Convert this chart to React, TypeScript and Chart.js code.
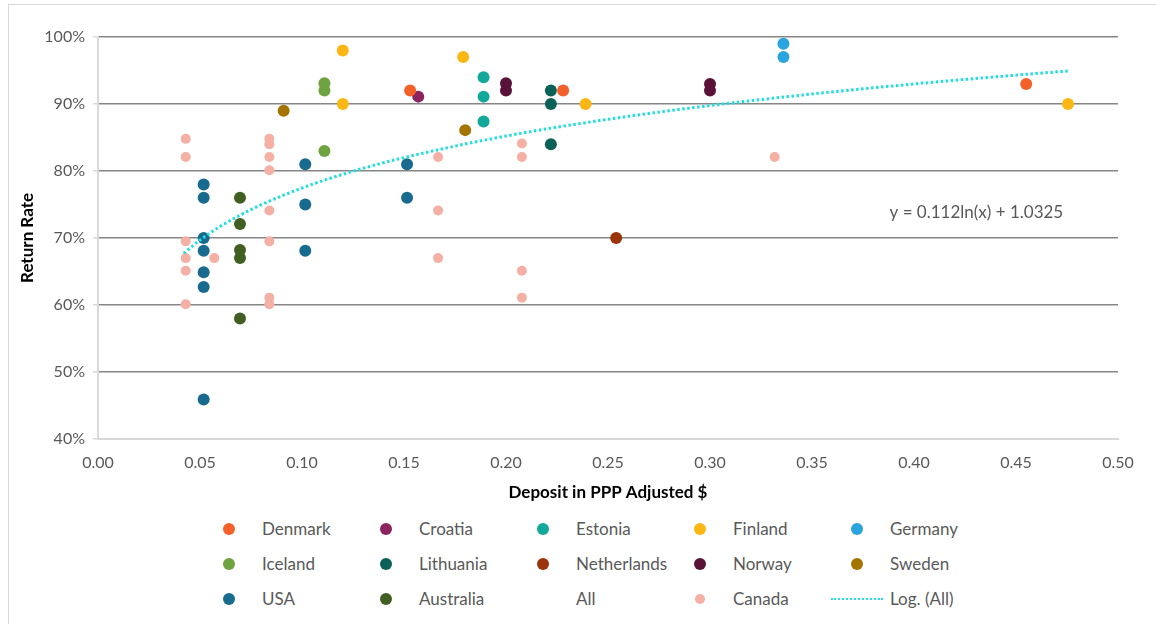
import React, { useEffect, useRef } from "react";
import { Chart, registerables } from "chart.js";

Chart.register(...registerables);

const FONT = "Lato, 'Open Sans', sans-serif";
const TEXT_GREY = "#595959";

// [deposit in PPP adjusted $, return rate]
const DENMARK: [number, number][] = [[0.153, 0.92], [0.228, 0.92], [0.455, 0.93]];
const CROATIA: [number, number][] = [[0.157, 0.911]];
const ESTONIA: [number, number][] = [[0.189, 0.94], [0.189, 0.911], [0.189, 0.874]];
const FINLAND: [number, number][] = [[0.12, 0.98], [0.12, 0.9], [0.179, 0.97], [0.239, 0.9], [0.4755, 0.9]];
const GERMANY: [number, number][] = [[0.336, 0.99], [0.336, 0.97]];
const ICELAND: [number, number][] = [[0.111, 0.931], [0.111, 0.92], [0.111, 0.83]];
const LITHUANIA: [number, number][] = [[0.222, 0.92], [0.222, 0.9], [0.222, 0.84]];
const NETHERLANDS: [number, number][] = [[0.254, 0.7]];
const NORWAY: [number, number][] = [[0.2, 0.931], [0.2, 0.92], [0.3, 0.93], [0.3, 0.92]];
const SWEDEN: [number, number][] = [[0.091, 0.89], [0.18, 0.861]];
const USA: [number, number][] = [
  [0.0518, 0.78], [0.0518, 0.76], [0.0518, 0.7], [0.0518, 0.681], [0.0518, 0.649], [0.0518, 0.627], [0.0518, 0.459],
  [0.1016, 0.81], [0.1016, 0.75], [0.1016, 0.681],
  [0.1515, 0.81], [0.1515, 0.76],
];
const AUSTRALIA: [number, number][] = [[0.0696, 0.76], [0.0696, 0.721], [0.0696, 0.682], [0.0696, 0.67], [0.0696, 0.58]];
const CANADA: [number, number][] = [
  [0.043, 0.848], [0.043, 0.821], [0.043, 0.695], [0.043, 0.67], [0.043, 0.651], [0.043, 0.601],
  [0.057, 0.67],
  [0.084, 0.848], [0.084, 0.84], [0.084, 0.821], [0.084, 0.801], [0.084, 0.741], [0.084, 0.695], [0.084, 0.611], [0.084, 0.601],
  [0.1667, 0.821], [0.1667, 0.741], [0.1667, 0.67],
  [0.2078, 0.841], [0.2078, 0.821], [0.2078, 0.651], [0.2078, 0.611],
  [0.3317, 0.821],
];

// Logarithmic trend line (All)
const TREND_X = [0.042, 0.05, 0.06, 0.075, 0.1, 0.125, 0.15, 0.2, 0.25, 0.3, 0.35, 0.4, 0.45, 0.4765];
const TREND_Y = [0.677, 0.697, 0.7174, 0.7424, 0.7746, 0.7996, 0.82, 0.8522, 0.8772, 0.8977, 0.9149, 0.9299, 0.9431, 0.9495];
const TREND_LABEL = "y = 0.112ln(x) + 1.0325";

const X_TICKS = [0, 0.05, 0.1, 0.15, 0.2, 0.25, 0.3, 0.35, 0.4, 0.45, 0.5];
const Y_TICKS = [0.4, 0.5, 0.6, 0.7, 0.8, 0.9, 1.0];

const TREND_COLOR = "#22dede";

type Series = { name: string; color: string; points: [number, number][]; radius: number; kind?: "none" | "line" };

const SERIES: Series[] = [
  { name: "Denmark", color: "#f4602a", points: DENMARK, radius: 6 },
  { name: "Croatia", color: "#8c2460", points: CROATIA, radius: 6 },
  { name: "Estonia", color: "#12a89a", points: ESTONIA, radius: 6 },
  { name: "Finland", color: "#fdb714", points: FINLAND, radius: 6 },
  { name: "Germany", color: "#2aa4dd", points: GERMANY, radius: 6 },
  { name: "Iceland", color: "#6fa33f", points: ICELAND, radius: 6 },
  { name: "Lithuania", color: "#0a6158", points: LITHUANIA, radius: 6 },
  { name: "Netherlands", color: "#9b330b", points: NETHERLANDS, radius: 6 },
  { name: "Norway", color: "#5a1338", points: NORWAY, radius: 6 },
  { name: "Sweden", color: "#a37500", points: SWEDEN, radius: 6 },
  { name: "USA", color: "#186a8f", points: USA, radius: 6 },
  { name: "Australia", color: "#425f23", points: AUSTRALIA, radius: 6 },
  { name: "All", color: "transparent", points: [], radius: 0, kind: "none" },
  { name: "Canada", color: "#f5b0a5", points: CANADA, radius: 5 },
];

const LEGEND_ITEMS: { name: string; color: string; kind: "dot" | "none" | "line"; small?: boolean }[] = [
  ...SERIES.map((s) => ({ name: s.name, color: s.color, kind: (s.kind === "none" ? "none" : "dot") as "dot" | "none", small: s.name === "Canada" })),
  { name: "Log. (All)", color: TREND_COLOR, kind: "line" as const },
];

const annotationPlugin = {
  id: "trendLabel",
  afterDatasetsDraw(chart: any) {
    const { ctx, scales } = chart;
    const x = scales.x.getPixelForValue(0.388);
    const y = scales.y.getPixelForValue(0.738);
    ctx.save();
    ctx.font = `17px ${FONT}`;
    ctx.fillStyle = TEXT_GREY;
    ctx.textAlign = "left";
    ctx.textBaseline = "middle";
    ctx.fillText(TREND_LABEL, x, y);
    ctx.restore();
  },
};

function ChartCanvas() {
  const ref = useRef<HTMLCanvasElement | null>(null);
  useEffect(() => {
    if (!ref.current) return;
    const allPoints = SERIES.flatMap((s) => s.points);
    const datasets: any[] = SERIES.map((s) => ({
      label: s.name,
      data: (s.name === "All" ? allPoints : s.points).map(([x, y]) => ({ x, y })),
      backgroundColor: s.color,
      borderColor: s.color,
      borderWidth: 0,
      pointRadius: s.radius,
      pointHoverRadius: s.radius,
      showLine: false,
    }));
    datasets.push({
      label: "Log. (All)",
      type: "line",
      data: TREND_X.map((x, i) => ({ x, y: TREND_Y[i] })),
      borderColor: TREND_COLOR,
      backgroundColor: TREND_COLOR,
      borderWidth: 3,
      borderDash: [2.5, 2.5],
      borderCapStyle: "butt",
      pointRadius: 0,
      showLine: true,
      fill: false,
      cubicInterpolationMode: "monotone",
      order: -1,
    });

    const chart = new Chart(ref.current, {
      type: "scatter",
      data: { datasets },
      plugins: [annotationPlugin],
      options: {
        responsive: false,
        animation: false,
        layout: { padding: { left: 0, top: 37, right: 38, bottom: 0 } },
        plugins: { legend: { display: false }, tooltip: { enabled: false } },
        scales: {
          x: {
            type: "linear",
            min: 0,
            max: 0.5,
            afterBuildTicks: (scale: any) => {
              scale.ticks = X_TICKS.map((v) => ({ value: v }));
            },
            afterFit: (scale: any) => {
              scale.height = 64;
            },
            grid: { display: false, drawTicks: false },
            border: { display: true, color: "#d9d9d9", width: 2 },
            ticks: {
              padding: 14,
              color: TEXT_GREY,
              font: { family: FONT, size: 16 },
              maxRotation: 0,
              autoSkip: false,
              callback: (v: any) => Number(v).toFixed(2),
            },
            title: {
              display: true,
              text: "Deposit in PPP Adjusted $",
              color: "#000",
              font: { family: FONT, size: 17, weight: "bold" },
              padding: { top: 0, bottom: 0 },
            },
          },
          y: {
            type: "linear",
            min: 0.4,
            max: 1.0,
            afterBuildTicks: (scale: any) => {
              scale.ticks = Y_TICKS.map((v) => ({ value: v }));
            },
            afterFit: (scale: any) => {
              scale.width = 98;
            },
            grid: {
              color: (c: any) => (Math.abs(c.tick?.value - 0.4) < 1e-6 ? "#d9d9d9" : "#868686"),
              lineWidth: 1.5,
              tickColor: "#d9d9d9",
              tickLength: 5,
              drawTicks: true,
            },
            border: { display: true, color: "#d9d9d9", width: 2 },
            ticks: {
              padding: 8,
              color: TEXT_GREY,
              font: { family: FONT, size: 16 },
              autoSkip: false,
              callback: (v: any) => Math.round(Number(v) * 100) + "%",
            },
            title: {
              display: true,
              text: "Return Rate",
              color: "#000",
              font: { family: FONT, size: 17, weight: "bold" },
              padding: { top: 17, bottom: 0 },
            },
          },
        },
      },
    });
    return () => chart.destroy();
  }, []);
  return <canvas ref={ref} width={1156} height={503} style={{ position: "absolute", left: 0, top: 0 }} />;
}

function Legend() {
  return (
    <>
      {LEGEND_ITEMS.map((item, i) => {
        const col = i % 5;
        const row = Math.floor(i / 5);
        const cx = 229 + col * 157;
        const cy = 529 + row * 35;
        const size = item.small ? 10 : 12;
        return (
          <React.Fragment key={item.name}>
            {item.kind === "dot" && (
              <div
                style={{
                  position: "absolute",
                  left: cx - size / 2,
                  top: cy - size / 2,
                  width: size,
                  height: size,
                  borderRadius: "50%",
                  background: item.color,
                }}
              />
            )}
            {item.kind === "line" && (
              <div
                style={{
                  position: "absolute",
                  left: cx - 26,
                  top: cy - 1,
                  width: 52,
                  height: 0,
                  borderTop: `2.5px dotted ${item.color}`,
                }}
              />
            )}
            <div
              style={{
                position: "absolute",
                left: cx + 33,
                top: cy - 11,
                height: 22,
                lineHeight: "22px",
                font: `17px ${FONT}`,
                color: TEXT_GREY,
                whiteSpace: "nowrap",
              }}
            >
              {item.name}
            </div>
          </React.Fragment>
        );
      })}
    </>
  );
}

export default function App() {
  return (
    <div
      style={{
        position: "absolute",
        left: 0,
        top: 0,
        width: 1156,
        height: 624,
        overflow: "hidden",
        background: "#fff",
      }}
    >
      <div
        style={{
          position: "absolute",
          left: 8,
          top: 4,
          width: 1300,
          height: 800,
          border: "1px solid #d9d9d9",
          boxSizing: "border-box",
        }}
      />
      <ChartCanvas />
      <Legend />
    </div>
  );
}
